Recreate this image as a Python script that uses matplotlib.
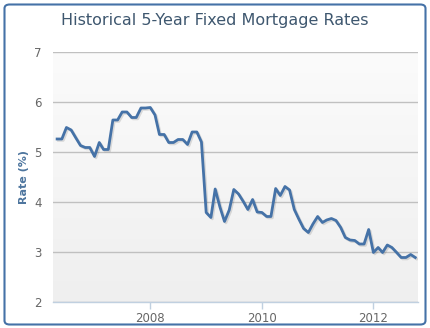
import numpy as np
import pandas as pd
import matplotlib
matplotlib.use("Agg")
import matplotlib.pyplot as plt
import matplotlib.patheffects as pe
from matplotlib.patches import FancyBboxPatch

# monthly 5-year fixed rates, May 2006 - Oct 2012
start_month = "2006-05-01"
rates = [5.26, 5.26, 5.49, 5.44, 5.28, 5.13, 5.09, 5.09, 4.91, 5.19, 5.05, 5.05,
         5.64, 5.64, 5.80, 5.80, 5.69, 5.69, 5.88, 5.88, 5.89, 5.74, 5.35, 5.35,
         5.19, 5.19, 5.25, 5.25, 5.15, 5.40, 5.40, 5.20, 3.79, 3.69, 4.26, 3.90,
         3.61, 3.84, 4.25, 4.16, 4.01, 3.85, 4.05, 3.80, 3.79, 3.71, 3.71, 4.27,
         4.13, 4.31, 4.24, 3.85, 3.65, 3.47, 3.39, 3.56, 3.71, 3.59, 3.64, 3.67,
         3.63, 3.49, 3.29, 3.24, 3.23, 3.16, 3.16, 3.45, 2.99, 3.09, 2.99, 3.14,
         3.09, 2.99, 2.89, 2.89, 2.95, 2.89]
y_ticks = [2, 3, 4, 5, 6, 7]
x_tick_years = ["2008", "2010", "2012"]

dates = pd.date_range(start_month, periods=len(rates), freq="MS")

W, H = 430, 328
fig = plt.figure(figsize=(W / 100, H / 100), dpi=100)
fig.patch.set_facecolor("white")

# rounded blue border around the whole chart
border = FancyBboxPatch((4.5 / W, 3.5 / H), 421 / W, 320 / H,
                        boxstyle="round,pad=0,rounding_size=0.012",
                        transform=fig.transFigure, facecolor="white",
                        edgecolor="#4572A7", linewidth=1.5, zorder=-5)
fig.patches.append(border)

ax = fig.add_axes([53 / W, 26 / H, 365 / W, 250 / H])
ax.set_facecolor("none")

# vertical gradient background
grad = np.linspace(0, 1, 256).reshape(-1, 1)
cmap = matplotlib.colors.LinearSegmentedColormap.from_list("bg", ["#FBFBFB", "#EFEFEF"])
ax.imshow(grad, aspect="auto", cmap=cmap, extent=[0, 1, 0, 1],
          transform=ax.transAxes, zorder=0)

ax.plot(dates, rates, color="#4572A7", linewidth=2.0, solid_joinstyle="round",
        zorder=3,
        path_effects=[pe.SimpleLineShadow(offset=(1, -1), alpha=0.12, shadow_color="black"),
                      pe.Normal()])

ax.set_xlim(pd.Timestamp("2006-04-04"), pd.Timestamp("2012-10-19"))
ax.set_ylim(2, 7)
ax.set_yticks(y_ticks)
ax.set_yticklabels([str(t) for t in y_ticks])
ax.set_xticks([pd.Timestamp(y + "-01-01") for y in x_tick_years])
ax.set_xticklabels(x_tick_years)

ax.grid(axis="y", color="#C0C0C0", linewidth=1, zorder=1)
for s in ["top", "right", "left"]:
    ax.spines[s].set_visible(False)
ax.spines["bottom"].set_color("#C0D0E0")
ax.spines["bottom"].set_linewidth(1)
ax.tick_params(axis="y", length=0, pad=8, labelsize=8.5, labelcolor="#666666")
ax.tick_params(axis="x", length=5, width=1, color="#C0D0E0", pad=2,
               labelsize=8.5, labelcolor="#666666")

ax.set_ylabel("Rate (%)", color="#4D759E", fontsize=8, fontweight="bold", labelpad=4)

fig.text(215 / W, 1 - 20 / H, "Historical 5-Year Fixed Mortgage Rates",
         ha="center", va="center", fontsize=11.5, color="#3E576F")

fig.savefig("out.png", dpi=100)
